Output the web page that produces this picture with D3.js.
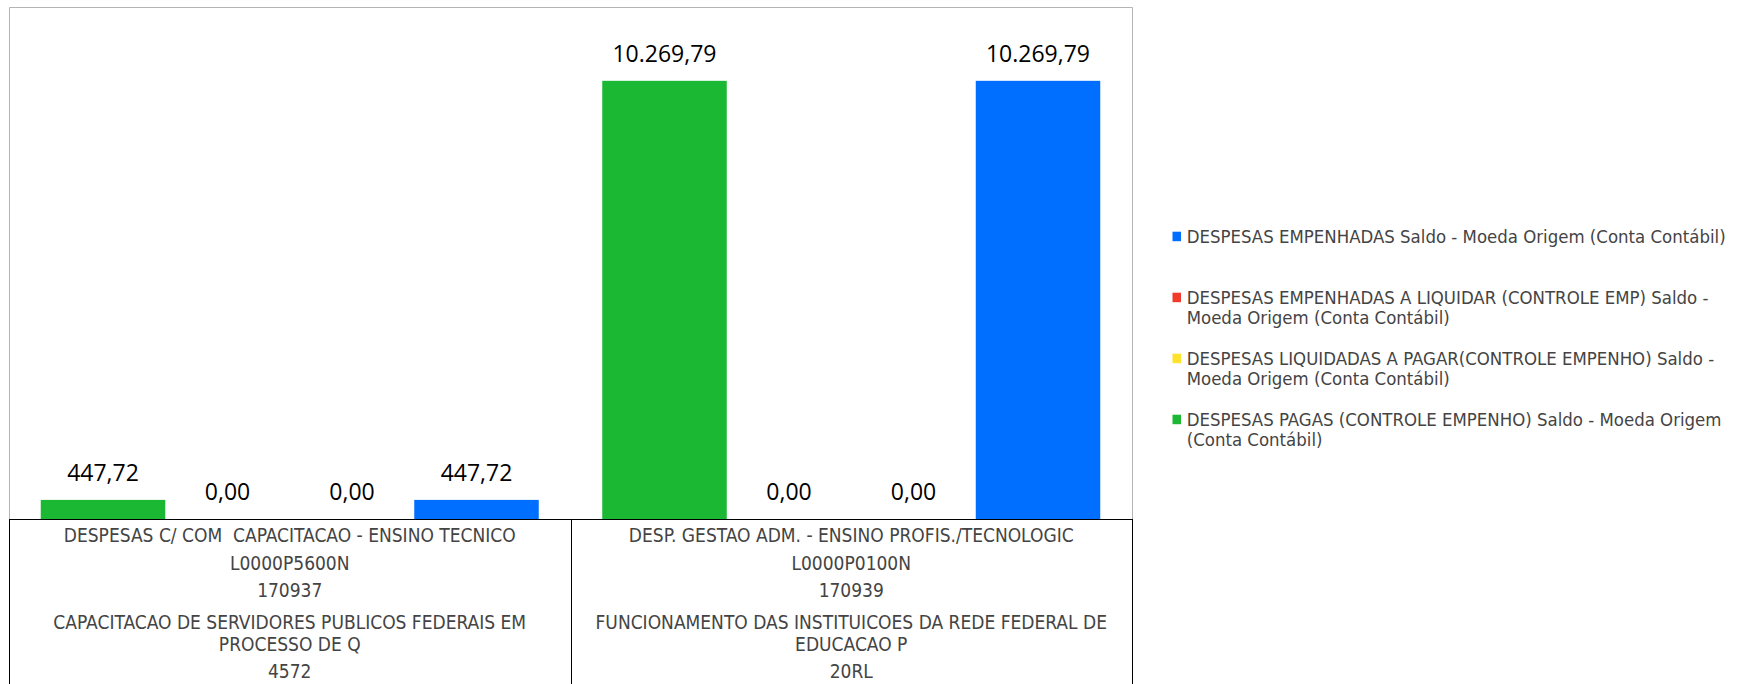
<!DOCTYPE html>
<html>
<head>
<meta charset="utf-8">
<script src="https://cdn.jsdelivr.net/npm/d3@7"></script>
<style>
  html, body { margin: 0; padding: 0; background: #ffffff; }
  svg { display: block; }
  text { white-space: pre; }
</style>
</head>
<body>
<svg id="chart" width="1738" height="684"></svg>
<script>
// ---- Data ----
const categories = ["cat1", "cat2"];
const categoryLabels = [
  ["DESPESAS C/ COM  CAPACITACAO - ENSINO TECNICO", "L0000P5600N", "170937",
   "CAPACITACAO DE SERVIDORES PUBLICOS FEDERAIS EM PROCESSO DE Q", "4572"],
  ["DESP. GESTAO ADM. - ENSINO PROFIS./TECNOLOGIC", "L0000P0100N", "170939",
   "FUNCIONAMENTO DAS INSTITUICOES DA REDE FEDERAL DE EDUCACAO P", "20RL"]
];
// bar order (left to right inside each category)
const seriesKeys = ["pagas", "aLiquidar", "liquidadasAPagar", "empenhadas"];
const seriesNames = [
  "DESPESAS PAGAS (CONTROLE EMPENHO) Saldo - Moeda Origem (Conta Contábil)",
  "DESPESAS EMPENHADAS A LIQUIDAR (CONTROLE EMP) Saldo - Moeda Origem (Conta Contábil)",
  "DESPESAS LIQUIDADAS A PAGAR(CONTROLE EMPENHO) Saldo - Moeda Origem (Conta Contábil)",
  "DESPESAS EMPENHADAS Saldo - Moeda Origem (Conta Contábil)"
];
const seriesColors = ["#1bb833", "#f03a2b", "#ffe22b", "#006fff"];
const valuesPagas = [447.72, 10269.79];
const valuesALiquidar = [0.00, 0.00];
const valuesLiquidadasAPagar = [0.00, 0.00];
const valuesEmpenhadas = [447.72, 10269.79];
const seriesValues = [valuesPagas, valuesALiquidar, valuesLiquidadasAPagar, valuesEmpenhadas];
const legendOrder = [3, 1, 2, 0];
const yMax = 12000;

// ---- Layout ----
const svg = d3.select("#chart");
const plotLeft = 9, plotRight = 1132, plotTop = 7, axisY = 519, bottom = 684;

const x0 = d3.scaleBand().domain(categories).range([plotLeft, plotRight]).padding(0);
const x1 = d3.scaleBand().domain(seriesKeys).range([0, x0.bandwidth()])
  .paddingInner(0).paddingOuter(0.255);
const y = d3.scaleLinear().domain([0, yMax]).range([axisY, plotTop]);

const fmt = d3.formatLocale({decimal: ",", thousands: ".", grouping: [3], currency: ["R$", ""]}).format(",.2f");

// plot frame (gray)
svg.append("path")
  .attr("d", `M${plotLeft + 0.5},${axisY}V${plotTop + 0.5}H${plotRight + 0.5}V${axisY}`)
  .attr("fill", "none").attr("stroke", "#b4b4b4").attr("stroke-width", 1);

// bars
const rows = [];
categories.forEach((c, ci) => {
  seriesKeys.forEach((k, si) => {
    rows.push({cat: c, key: k, si, value: seriesValues[si][ci]});
  });
});

const g = svg.append("g");
g.selectAll("rect.bar").data(rows).join("rect")
  .attr("class", "bar")
  .attr("x", d => x0(d.cat) + x1(d.key))
  .attr("width", x1.bandwidth())
  .attr("y", d => y(d.value))
  .attr("height", d => y(0) - y(d.value))
  .attr("fill", d => seriesColors[d.si]);

g.selectAll("text.val").data(rows).join("text")
  .attr("class", "val")
  .attr("x", d => x0(d.cat) + x1(d.key) + x1.bandwidth() / 2)
  .attr("y", d => y(d.value) - 18.6)
  .attr("text-anchor", "middle")
  .attr("font-family", "'Open Sans'")
  .attr("font-size", "23px")
  .attr("fill", "#000")
  .text(d => fmt(d.value));

// category axis box (black)
const axisG = svg.append("g");
axisG.append("line").attr("x1", plotLeft).attr("x2", plotRight + 1)
  .attr("y1", axisY + 0.5).attr("y2", axisY + 0.5)
  .attr("stroke", "#000").attr("stroke-width", 1);
const dividers = [plotLeft, ...categories.map(c => x0(c) + x0.bandwidth())];
axisG.selectAll("line.div").data(dividers).join("line")
  .attr("class", "div")
  .attr("x1", d => Math.round(d) + 0.5).attr("x2", d => Math.round(d) + 0.5)
  .attr("y1", axisY).attr("y2", bottom)
  .attr("stroke", "#000").attr("stroke-width", 1);

// wrap helper
function wrapLines(textSel, str, maxW) {
  const words = str.split(" ");
  const lines = [];
  let cur = "";
  const t = textSel.append("tspan");
  words.forEach(w => {
    const test = cur === "" ? w : cur + " " + w;
    t.text(test);
    if (t.node().getComputedTextLength() > maxW && cur !== "") {
      lines.push(cur);
      cur = w;
    } else {
      cur = test;
    }
  });
  if (cur !== "") lines.push(cur);
  t.remove();
  return lines;
}

// category labels
categories.forEach((c, ci) => {
  const cx = x0(c) + x0.bandwidth() / 2;
  let baseY = 542.4;
  categoryLabels[ci].forEach((lbl, li) => {
    const t = axisG.append("text")
      .attr("text-anchor", "middle")
      .attr("font-family", "DejaVu Sans Condensed")
      .attr("font-size", "19px")
      .attr("fill", "#444444");
    const lines = lbl.indexOf("  ") >= 0 ? [lbl] : wrapLines(t, lbl, 545);
    if (li > 0) baseY += 27.3 + (lines.length > 1 ? 4.7 : 0);
    lines.forEach((ln, k) => {
      t.append("tspan").attr("x", cx).attr("y", baseY + k * 22).text(ln);
    });
    baseY += (lines.length - 1) * 22;
  });
});

// legend
const legendG = svg.append("g");
const legX = 1172.5, legTextX = 1186.7, legY0 = 242.5, legStep = 61, legLineH = 20.6;
legendOrder.forEach((si, i) => {
  const by = legY0 + i * legStep;
  legendG.append("rect")
    .attr("x", legX).attr("y", by - 10.8)
    .attr("width", 8.5).attr("height", 9.5)
    .attr("fill", seriesColors[si]);
  const t = legendG.append("text")
    .attr("font-family", "DejaVu Sans Condensed")
    .attr("font-size", "18.45px")
    .attr("fill", "#444444");
  const lines = wrapLines(t, seriesNames[si], 549);
  lines.forEach((ln, k) => {
    t.append("tspan").attr("x", legTextX).attr("y", by + k * legLineH).text(ln);
  });
});
</script>
</body>
</html>
